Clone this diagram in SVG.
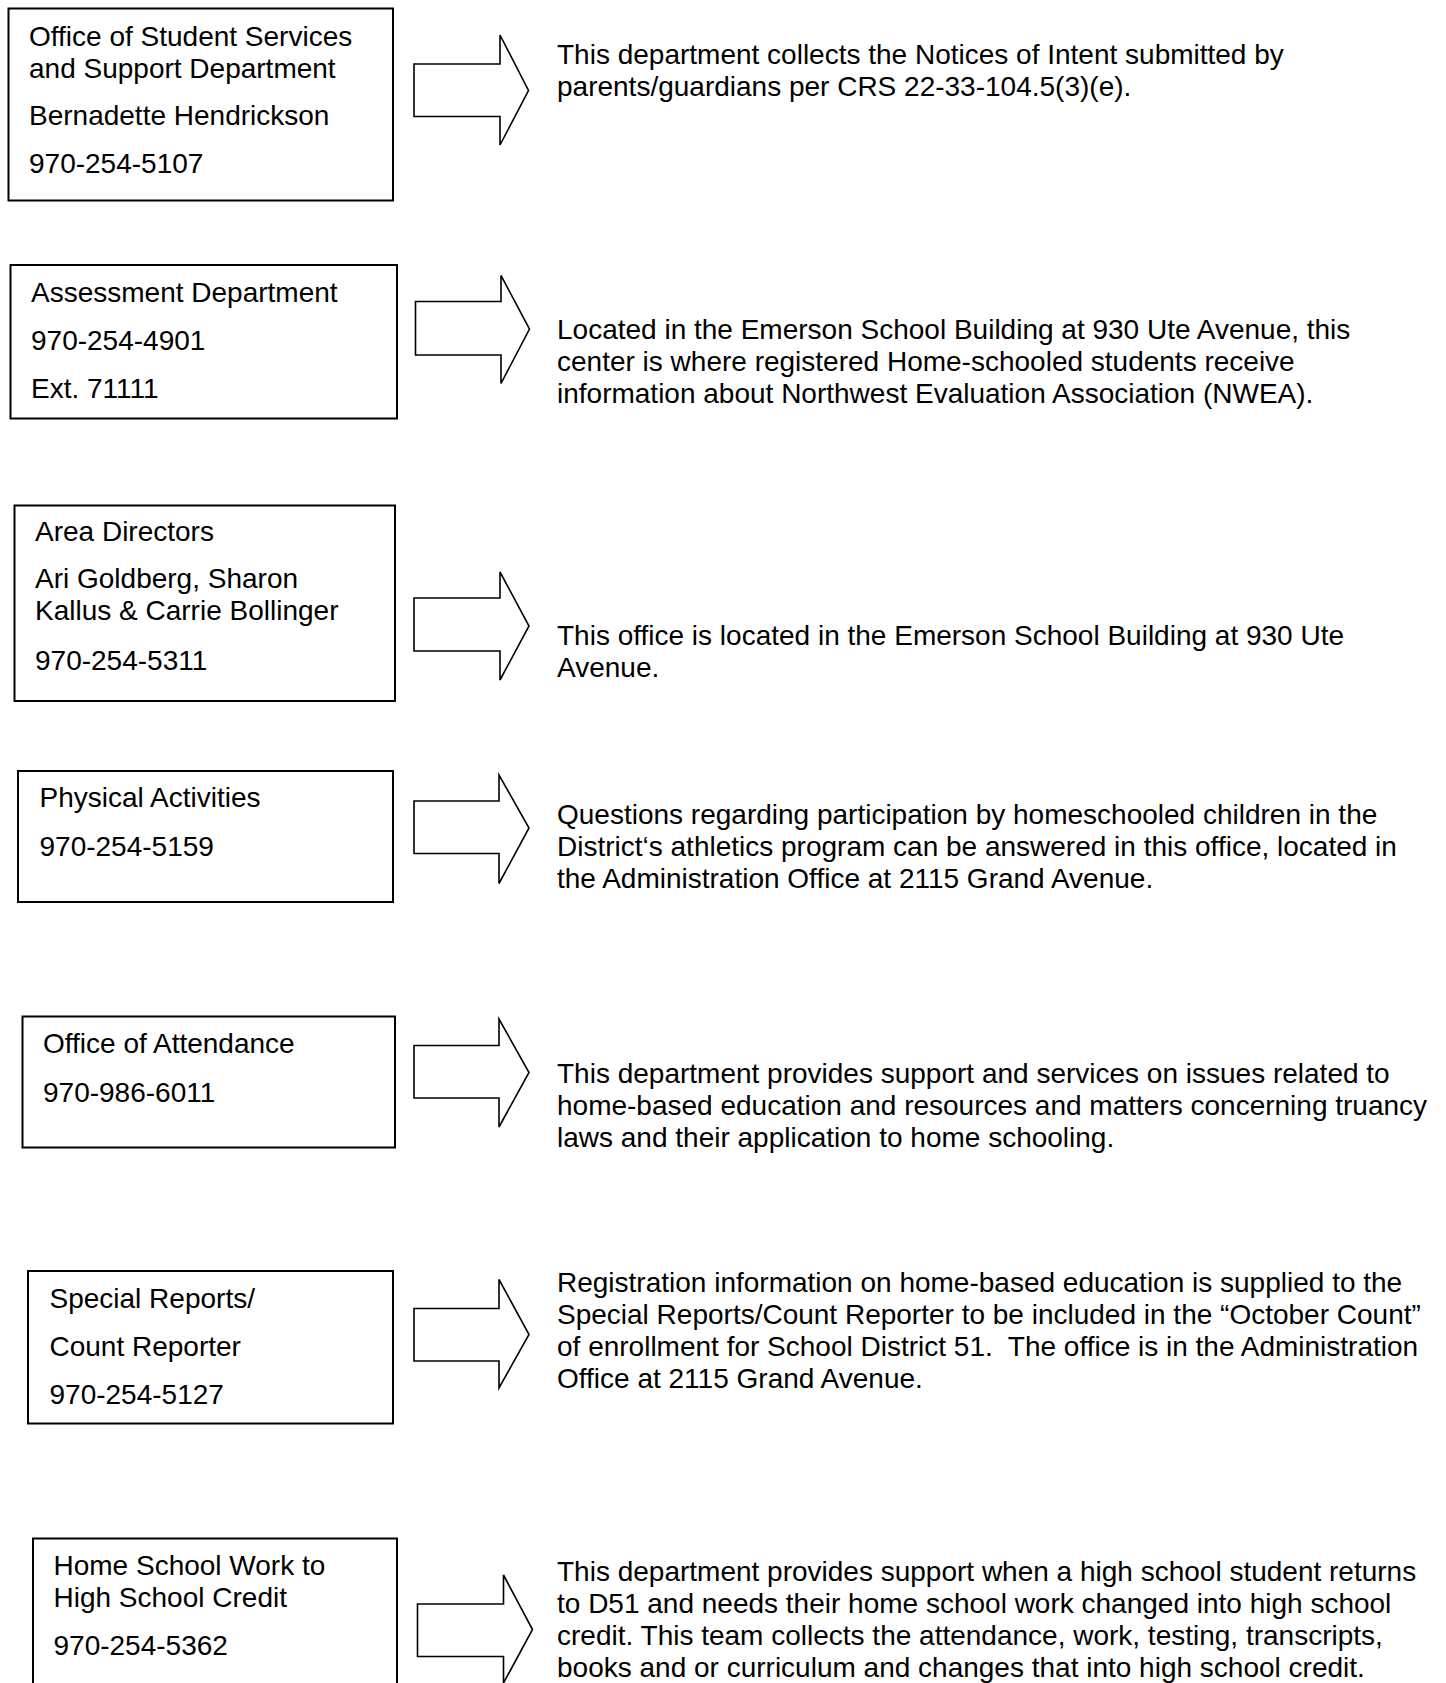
<svg xmlns="http://www.w3.org/2000/svg" width="1446" height="1683" viewBox="0 0 1446 1683">
<style>
.box{fill:#fff;stroke:#000;stroke-width:2}
.arr{fill:#fff;stroke:#000;stroke-width:1.6;stroke-linejoin:miter}
text{font-family:"Liberation Sans",Arial,sans-serif;font-size:28px;fill:#000}
</style>
<rect width="1446" height="1683" fill="#fff"/>
<g id="connectors">
<polygon class="arr" points="414,64 500,64 500,35 528.5,90.5 500,145 500,116.5 414,116.5"/>
<polygon class="arr" points="415.5,301.5 501,301.5 501,275.5 529.5,329 501,383.5 501,355 415.5,355"/>
<polygon class="arr" points="414,598 500,598 500,572 529,626 500,680 500,651 414,651"/>
<polygon class="arr" points="414,801 499,801 499,775 529,828 499,883.5 499,853.5 414,853.5"/>
<polygon class="arr" points="414,1045.5 499,1045.5 499,1019 529,1072.5 499,1127 499,1098 414,1098"/>
<polygon class="arr" points="414,1308.5 499,1308.5 499,1279.5 529,1334.5 499,1388 499,1361 414,1361"/>
<polygon class="arr" points="417.5,1604 503.5,1604 503.5,1575 532.5,1629.5 503.5,1683 503.5,1656.5 417.5,1656.5"/>
</g>
<g id="node-student-services">
<rect class="box" x="8.5" y="8.5" width="384.5" height="192"/>
<text x="29" y="45.5">Office of Student Services</text>
<text x="29" y="77.5">and Support Department</text>
<text x="29" y="124.5">Bernadette Hendrickson</text>
<text x="29" y="173">970-254-5107</text>
</g>
<g id="desc-student-services">
<text x="557" y="63.5">This department collects the Notices of Intent submitted by</text>
<text x="557" y="95.5">parents/guardians per CRS 22-33-104.5(3)(e).</text>
</g>
<g id="node-assessment">
<rect class="box" x="10.5" y="265" width="386.5" height="153.5"/>
<text x="31" y="302">Assessment Department</text>
<text x="31" y="349.5">970-254-4901</text>
<text x="31" y="397.5">Ext. 71111</text>
</g>
<g id="desc-assessment">
<text x="557" y="338.5">Located in the Emerson School Building at 930 Ute Avenue, this</text>
<text x="557" y="370.5">center is where registered Home-schooled students receive</text>
<text x="557" y="402.5">information about Northwest Evaluation Association (NWEA).</text>
</g>
<g id="node-area-directors">
<rect class="box" x="14.5" y="505.5" width="380.5" height="195.5"/>
<text x="35" y="541">Area Directors</text>
<text x="35" y="588">Ari Goldberg, Sharon</text>
<text x="35" y="620">Kallus &amp; Carrie Bollinger</text>
<text x="35" y="670">970-254-5311</text>
</g>
<g id="desc-area-directors">
<text x="557" y="644.5">This office is located in the Emerson School Building at 930 Ute</text>
<text x="557" y="676.5">Avenue.</text>
</g>
<g id="node-physical">
<rect class="box" x="18" y="771" width="375" height="131"/>
<text x="39.5" y="807">Physical Activities</text>
<text x="39.5" y="855.5">970-254-5159</text>
</g>
<g id="desc-physical">
<text x="557" y="824">Questions regarding participation by homeschooled children in the</text>
<text x="557" y="856">District‘s athletics program can be answered in this office, located in</text>
<text x="557" y="888">the Administration Office at 2115 Grand Avenue.</text>
</g>
<g id="node-attendance">
<rect class="box" x="22.5" y="1016.5" width="372.5" height="131"/>
<text x="43" y="1053">Office of Attendance</text>
<text x="43" y="1101.5">970-986-6011</text>
</g>
<g id="desc-attendance">
<text x="557" y="1082.5">This department provides support and services on issues related to</text>
<text x="557" y="1114.5">home-based education and resources and matters concerning truancy</text>
<text x="557" y="1146.5">laws and their application to home schooling.</text>
</g>
<g id="node-special-reports">
<rect class="box" x="28" y="1271" width="365" height="152.5"/>
<text x="49.5" y="1308">Special Reports/</text>
<text x="49.5" y="1355.5">Count Reporter</text>
<text x="49.5" y="1403.5">970-254-5127</text>
</g>
<g id="desc-special-reports">
<text x="557" y="1292">Registration information on home-based education is supplied to the</text>
<text x="557" y="1324">Special Reports/Count Reporter to be included in the “October Count”</text>
<text x="557" y="1356" style="white-space:pre" xml:space="preserve">of enrollment for School District 51.  The office is in the Administration</text>
<text x="557" y="1388">Office at 2115 Grand Avenue.</text>
</g>
<g id="node-high-school-credit">
<rect class="box" x="33" y="1538.5" width="364" height="160"/>
<text x="53.5" y="1575">Home School Work to</text>
<text x="53.5" y="1607">High School Credit</text>
<text x="53.5" y="1655">970-254-5362</text>
</g>
<g id="desc-high-school-credit">
<text x="557" y="1580.5">This department provides support when a high school student returns</text>
<text x="557" y="1612.5">to D51 and needs their home school work changed into high school</text>
<text x="557" y="1644.5">credit. This team collects the attendance, work, testing, transcripts,</text>
<text x="557" y="1676.5">books and or curriculum and changes that into high school credit.</text>
</g>
</svg>
